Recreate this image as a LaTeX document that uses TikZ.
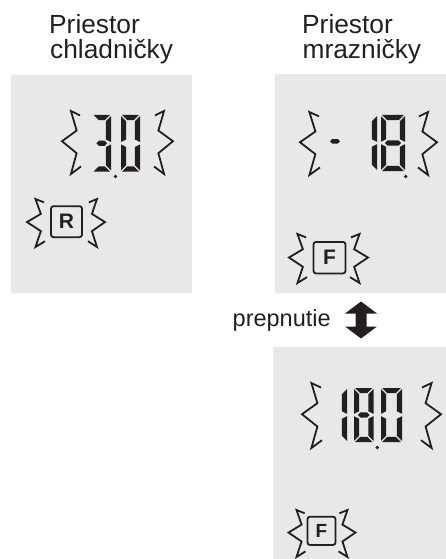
\documentclass[tikz,border=0pt]{standalone}
\usepackage{fontspec}
\setmainfont{Liberation Sans}
\definecolor{panel}{RGB}{232,232,232}
\definecolor{ink}{RGB}{35,31,32}
\def\sthk{5.2}
\def\sgap{1.2}
\newcommand\sega{\fill[ink] ({\dx+\sgap},\dy) -- ({\dx+\dW-\sgap},\dy) -- ({\dx+\dW-\sgap-\sthk},{\dy+\sthk}) -- ({\dx+\sgap+\sthk},{\dy+\sthk}) -- cycle;}
\newcommand\segd{\fill[ink] ({\dx+\sgap},{\dy+\dH}) -- ({\dx+\dW-\sgap},{\dy+\dH}) -- ({\dx+\dW-\sgap-\sthk},{\dy+\dH-\sthk}) -- ({\dx+\sgap+\sthk},{\dy+\dH-\sthk}) -- cycle;}
\newcommand\segf{\fill[ink] (\dx,{\dy+\sgap}) -- ({\dx+\sthk},{\dy+\sgap+\sthk}) -- ({\dx+\sthk},{\dy+\dH/2-\sgap-\sthk/2}) -- (\dx,{\dy+\dH/2-\sgap}) -- cycle;}
\newcommand\sege{\fill[ink] (\dx,{\dy+\dH/2+\sgap}) -- ({\dx+\sthk},{\dy+\dH/2+\sgap+\sthk/2}) -- ({\dx+\sthk},{\dy+\dH-\sgap-\sthk}) -- (\dx,{\dy+\dH-\sgap}) -- cycle;}
\newcommand\segb{\fill[ink] ({\dx+\dW},{\dy+\sgap}) -- ({\dx+\dW-\sthk},{\dy+\sgap+\sthk}) -- ({\dx+\dW-\sthk},{\dy+\dH/2-\sgap-\sthk/2}) -- ({\dx+\dW},{\dy+\dH/2-\sgap}) -- cycle;}
\newcommand\segc{\fill[ink] ({\dx+\dW},{\dy+\dH/2+\sgap}) -- ({\dx+\dW-\sthk},{\dy+\dH/2+\sgap+\sthk/2}) -- ({\dx+\dW-\sthk},{\dy+\dH-\sgap-\sthk}) -- ({\dx+\dW},{\dy+\dH-\sgap}) -- cycle;}
\newcommand\segg{\fill[ink] ({\dx+\sthk/2+\sgap},{\dy+\dH/2}) -- ({\dx+\sthk+\sgap},{\dy+\dH/2-\sthk/2}) -- ({\dx+\dW-\sthk-\sgap},{\dy+\dH/2-\sthk/2}) -- ({\dx+\dW-\sthk/2-\sgap},{\dy+\dH/2}) -- ({\dx+\dW-\sthk-\sgap},{\dy+\dH/2+\sthk/2}) -- ({\dx+\sthk+\sgap},{\dy+\dH/2+\sthk/2}) -- cycle;}
\newcommand\lcddigit[5]{\def\dx{#1}\def\dy{#2}\def\dW{#3}\def\dH{#4}\foreach \s in {#5}{\csname seg\s\endcsname}}
% zigzag: x0,y0,w,h,s (s=1 left bracket, s=-1 right bracket)
\newcommand\zigzag[5]{\draw[zzline]
 ({#1+#3*(0.5+#5*(0.45))},{#2+0.07*#4}) --
 ({#1+#3*(0.5+#5*(-0.03))},{#2}) --
 ({#1+#3*(0.5+#5*(0.27))},{#2+0.31*#4}) --
 ({#1+#3*(0.5+#5*(-0.5))},{#2+0.48*#4}) --
 ({#1+#3*(0.5+#5*(0.27))},{#2+0.67*#4}) --
 ({#1+#3*(0.5+#5*(-0.03))},{#2+#4}) --
 ({#1+#3*(0.5+#5*(0.5))},{#2+0.88*#4});}
\tikzset{
 title/.style={font=\fontsize{26.3}{25}\selectfont, text=ink, inner sep=0pt, anchor=base west},
 lbl/.style={font=\fontsize{23.5}{23.5}\selectfont, text=ink, inner sep=0pt, anchor=base west},
 zzline/.style={draw=ink, line width=1.8pt, line join=miter, miter limit=4},
 badge/.style={draw=ink, line width=1.8pt, rounded corners=2.5pt, inner sep=0pt, text=ink, font=\fontsize{21}{21}\selectfont\bfseries},
 dotpt/.style={fill=ink}
}
\begin{document}
\begin{tikzpicture}[x=1pt,y=-1pt]
\useasboundingbox (0,0) rectangle (446,559);
% panels
\fill[panel] (11,75) rectangle (192,293);
\fill[panel] (275,74) rectangle (446,293);
\fill[panel] (273,347) rectangle (446,559);
% titles
\node[title] (tl1) at (49,33.3) {Priestor};
\node[title] (tl2) at (50,58.3) {chladničky};
\node[title] (tr1) at (302,33.3) {Priestor};
\node[title] (tr2) at (302.5,58.3) {mrazničky};
\node[lbl] (sw) at (232.5,326.7) {prepnutie};
% switch arrow
\fill[ink] (361,301.5) -- (377,313.5) -- (366.5,313.5) -- (366.5,326.5) -- (377,326.5) -- (361,338.5) -- (345,326.5) -- (355.5,326.5) -- (355.5,313.5) -- (345,313.5) -- cycle;
% left panel display 3.0
\zigzag{62}{111}{19}{63}{1}
\zigzag{154}{111}{19}{63}{-1}
\lcddigit{92.5}{115}{18.5}{56.5}{a,b,g,c,d}
\lcddigit{121}{115}{19}{56.5}{a,b,c,d,e,f}
\fill[dotpt] (115.5,176.5) circle (1.9);
% R badge
\node[badge, minimum width=31pt, minimum height=31pt] (rb) at (66.5,221.7) {R};
\zigzag{27}{199}{18}{48}{1}
\zigzag{88}{199}{17}{48}{-1}
% right top display -18.
\zigzag{300}{112}{20}{63}{1}
\zigzag{418}{112}{19}{63}{-1}
\fill[ink] (330,141.3) -- (332.2,139) -- (337.8,139) -- (340,141.3) -- (337.8,143.6) -- (332.2,143.6) -- cycle;
\lcddigit{371}{115}{6}{56}{b,c}
\lcddigit{381}{115}{24}{56}{a,b,c,d,e,f,g}
\fill[dotpt] (405.7,176.5) circle (1.9);
% F badge top
\node[badge, minimum width=32pt, minimum height=31.5pt] (fb1) at (329.5,257.7) {F};
\zigzag{289}{234}{18}{49}{1}
\zigzag{350}{234}{18}{49}{-1}
% right bottom display 18.0
\zigzag{302}{383}{20}{65}{1}
\zigzag{421}{383}{20}{65}{-1}
\lcddigit{341}{388}{6}{54}{b,c}
\lcddigit{354}{388}{19.5}{54}{a,b,c,d,e,f,g}
\lcddigit{381}{388}{21}{54}{a,b,c,d,e,f}
\fill[dotpt] (377.3,447.5) circle (1.9);
% F badge bottom
\node[badge, minimum width=28pt, minimum height=28.3pt, font=\fontsize{19}{19}\selectfont\bfseries] (fb2) at (321.5,530.8) {F};
\zigzag{288.5}{510}{17}{47}{1}
\zigzag{338.5}{510}{17}{47}{-1}
\end{tikzpicture}
\end{document}
